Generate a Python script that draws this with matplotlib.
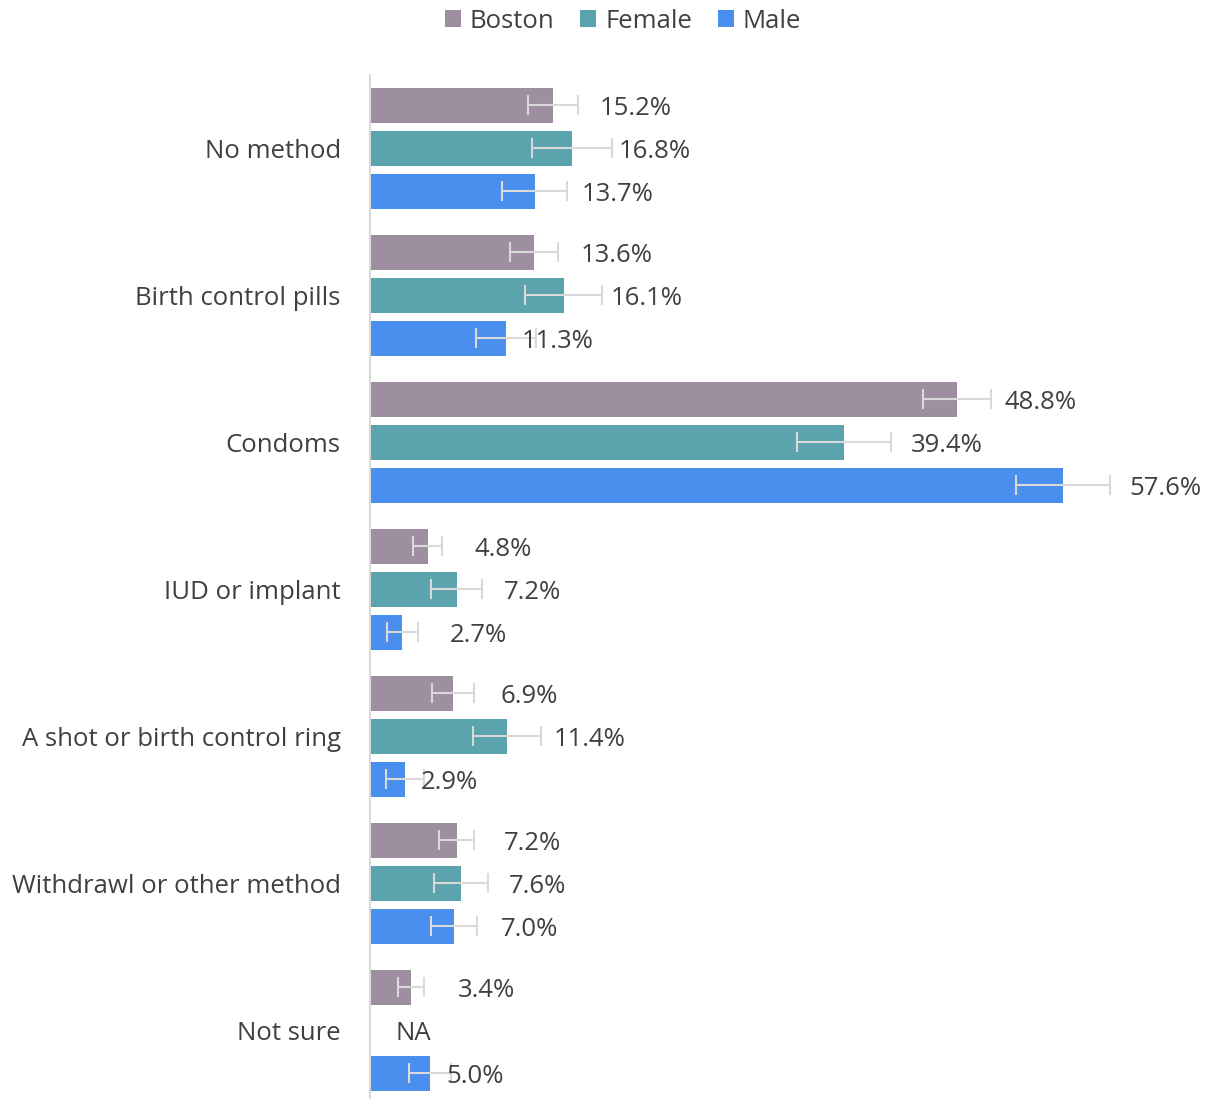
import matplotlib
matplotlib.use("Agg")
import matplotlib.pyplot as plt
from matplotlib.patches import Patch

# ---- data ----
categories = ["No method", "Birth control pills", "Condoms", "IUD or implant",
              "A shot or birth control ring", "Withdrawl or other method", "Not sure"]
series_names = ["Boston", "Female", "Male"]
boston = [15.2, 13.6, 48.8, 4.8, 6.9, 7.2, 3.4]
female = [16.8, 16.1, 39.4, 7.2, 11.4, 7.6, None]
male = [13.7, 11.3, 57.6, 2.7, 2.9, 7.0, 5.0]
boston_err = [2.1, 2.0, 2.8, 1.2, 1.75, 1.45, 1.1]
female_err = [3.3, 3.2, 3.9, 2.1, 2.8, 2.25, None]
male_err = [2.7, 2.5, 3.9, 1.25, 1.6, 1.9, 1.75]

# ---- style ----
colors = ["#9E8FA0", "#5BA3AD", "#4A8EEE"]
text_color = "#404040"
err_color = "#D9D9D9"
font = "Open Sans"
fs = 18.5
default_label_offset = 47   # pixels from bar end
label_offset_override = {(1, 2): 16, (4, 2): 16, (6, 2): 16, (2, 1): 67, (2, 2): 66}
na_offset = 26
label_dy = -3

plt.rcParams['font.family'] = [font, 'DejaVu Sans']

W, H = 1208, 1099
fig = plt.figure(figsize=(W / 100, H / 100), dpi=100)
ax_left, ax_top, ax_bottom = 370, 75, 1099
ax = fig.add_axes([ax_left / W, 1 - ax_bottom / H, 1 - ax_left / W, (ax_bottom - ax_top) / H])

px_per_unit = 12.03
ax.set_xlim(0, (W - ax_left) / px_per_unit)
ax.set_ylim(6.469, -0.497)

values = [boston, female, male]
errors = [boston_err, female_err, male_err]
pitch = 0.2925
height = 0.238

for s, (vals, errs) in enumerate(zip(values, errors)):
    off = (s - 1) * pitch
    ys = [i + off for i, v in enumerate(vals) if v is not None]
    vs = [v for v in vals if v is not None]
    es = [e for e, v in zip(errs, vals) if v is not None]
    ax.barh(ys, vs, height=height, color=colors[s], zorder=2)
    ax.errorbar(vs, ys, xerr=es, fmt='none', ecolor=err_color, elinewidth=1.5,
                capsize=7, capthick=1.5, zorder=3)
    for i, v in enumerate(vals):
        y = i + off
        if v is None:
            ax.annotate("NA", xy=(0, y), xytext=(na_offset, label_dy), textcoords='offset pixels',
                        ha='left', va='center', fontsize=fs, color=text_color, zorder=4)
        else:
            o = label_offset_override.get((i, s), default_label_offset)
            ax.annotate(f"{v:.1f}%", xy=(v, y), xytext=(o, label_dy), textcoords='offset pixels',
                        ha='left', va='center', fontsize=fs, color=text_color, zorder=4)

ax.set_yticks(range(len(categories)))
ax.set_yticklabels(categories, fontsize=fs, color=text_color)
ax.tick_params(axis='y', length=0, pad=21)
ax.set_xticks([])
for sp in ['top', 'right', 'bottom']:
    ax.spines[sp].set_visible(False)
ax.spines['left'].set_color(err_color)
ax.spines['left'].set_linewidth(1.5)

handles = [Patch(facecolor=c, edgecolor='none') for c in colors]
fig.legend(handles, series_names, loc='center', bbox_to_anchor=(623 / W, 1 - 21 / H),
           ncol=3, frameon=False, fontsize=fs, labelcolor=text_color,
           handlelength=0.62, handleheight=0.62, handletextpad=0.35, columnspacing=1.0,
           borderpad=0)

fig.savefig("out.png", dpi=100)
